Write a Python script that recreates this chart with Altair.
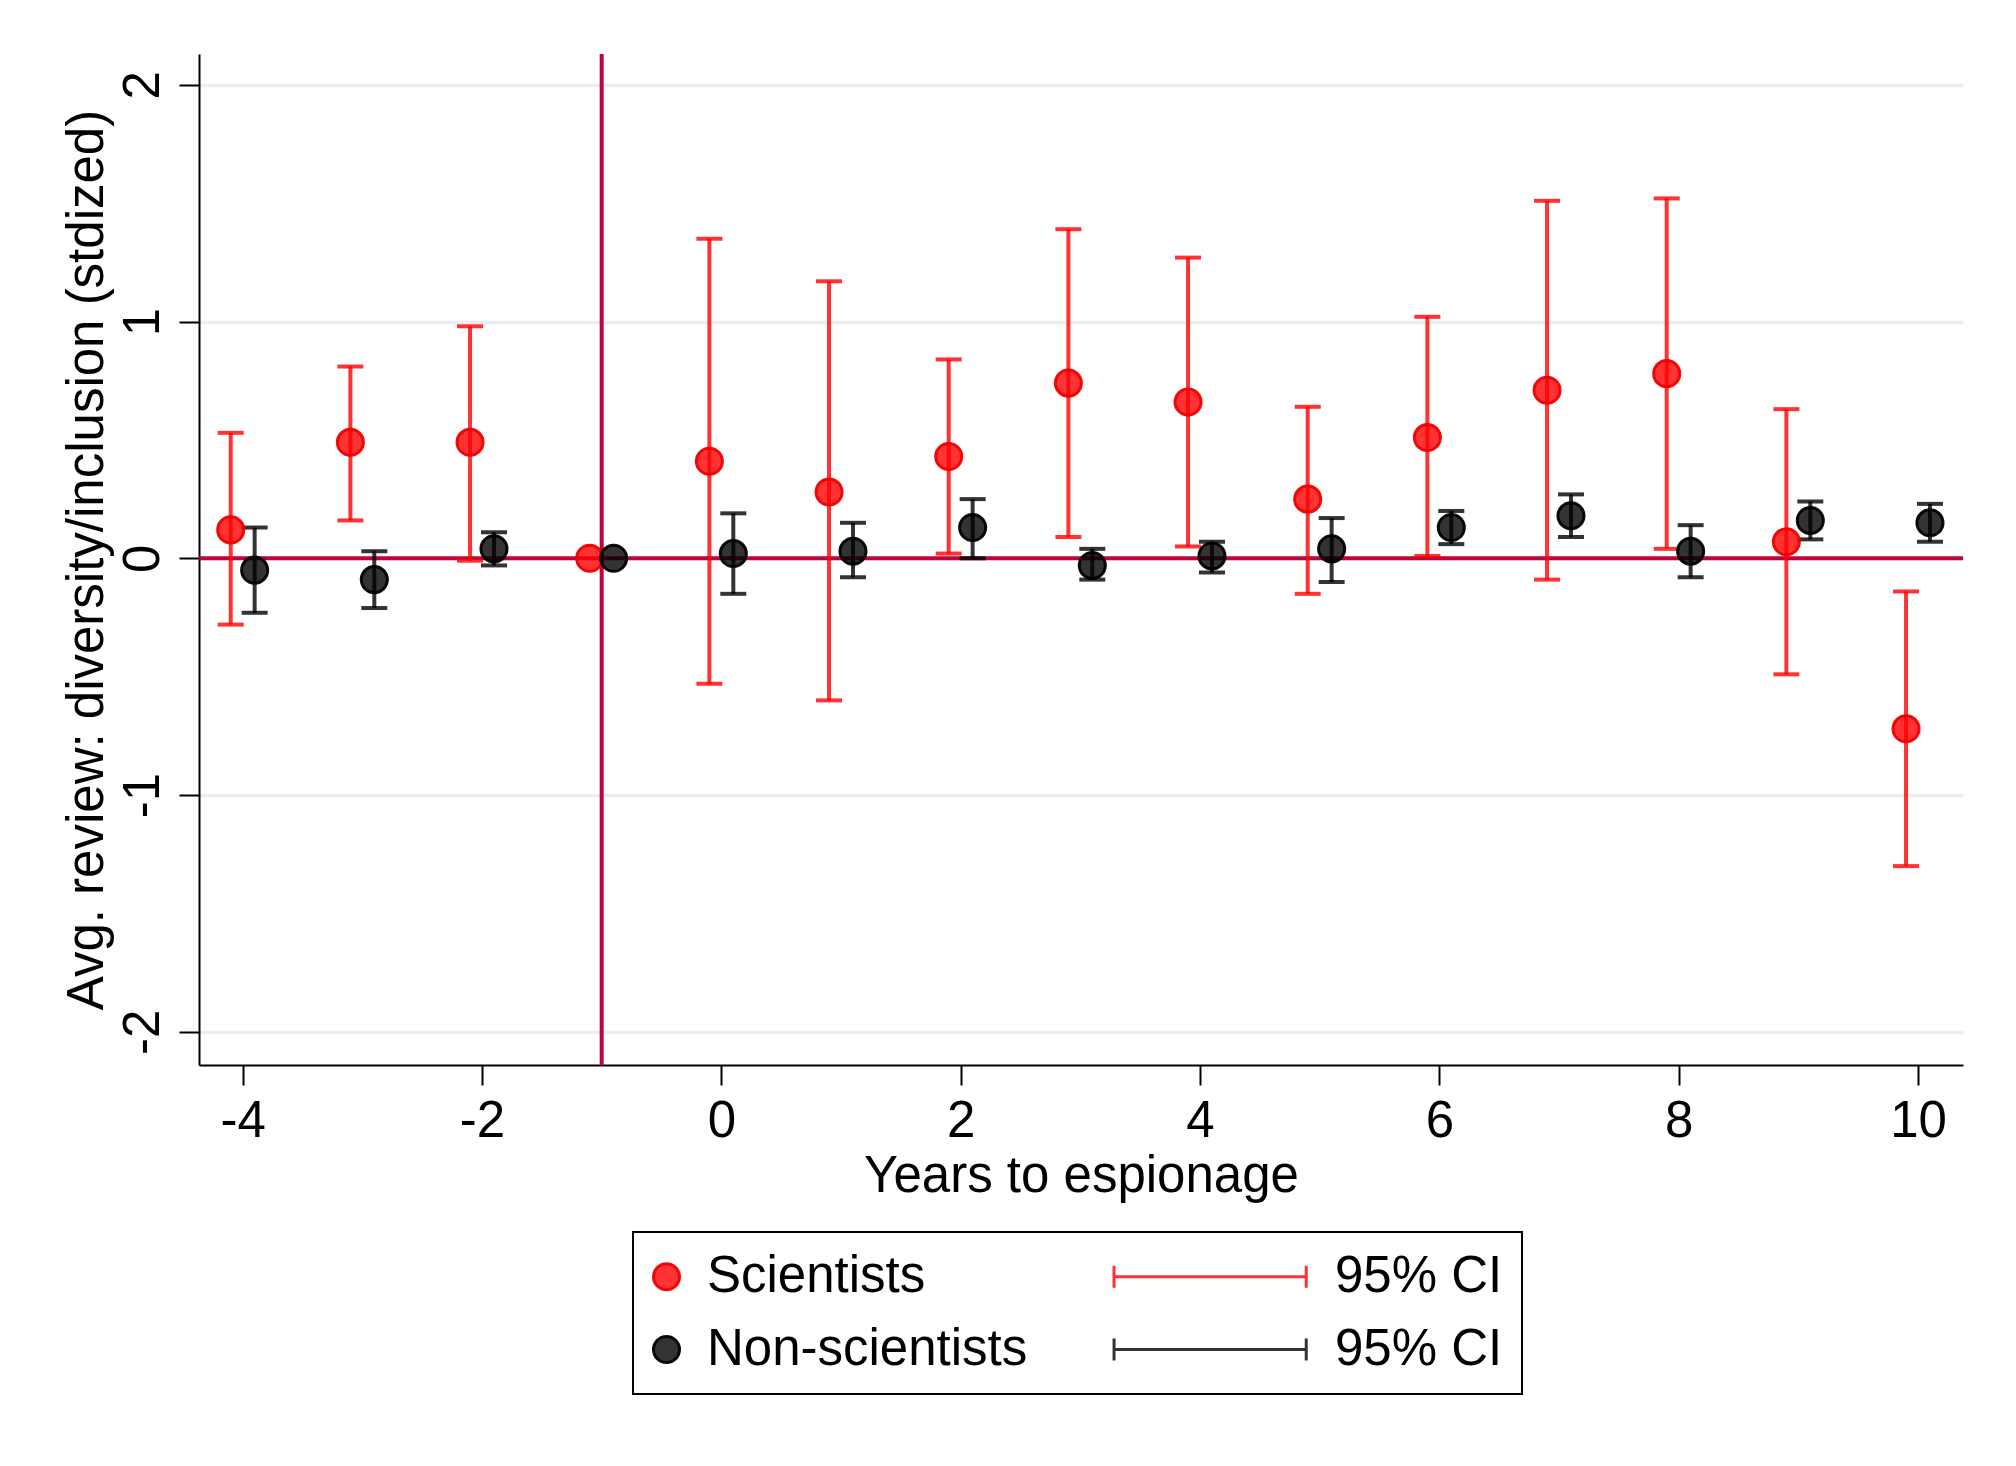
import altair as alt
import pandas as pd

# ---------------- data ----------------
years = [-4, -3, -2, -1, 0, 1, 2, 3, 4, 5, 6, 7, 8, 9, 10]

sci_est = [0.12, 0.49, 0.49, 0.0, 0.41, 0.28, 0.43, 0.74, 0.66, 0.25, 0.51, 0.71, 0.78, 0.07, -0.72]
sci_lo = [-0.28, 0.16, -0.01, None, -0.53, -0.60, 0.02, 0.09, 0.05, -0.15, 0.01, -0.09, 0.04, -0.49, -1.30]
sci_hi = [0.53, 0.81, 0.98, None, 1.35, 1.17, 0.84, 1.39, 1.27, 0.64, 1.02, 1.51, 1.52, 0.63, -0.14]

non_est = [-0.05, -0.09, 0.04, 0.0, 0.02, 0.03, 0.13, -0.03, 0.01, 0.04, 0.13, 0.18, 0.03, 0.16, 0.15]
non_lo = [-0.23, -0.21, -0.03, None, -0.15, -0.08, 0.00, -0.09, -0.06, -0.10, 0.06, 0.09, -0.08, 0.08, 0.07]
non_hi = [0.13, 0.03, 0.11, None, 0.19, 0.15, 0.25, 0.04, 0.07, 0.17, 0.20, 0.27, 0.14, 0.24, 0.23]

groups = ["Scientists", "Non-scientists"]
# legend entries, filled column by column (markers, then CI keys)
legend_keys = ["Scientists", "Non-scientists", "Scientists 95% CI", "Non-scientists 95% CI"]
event_year = [-1]
zero_line = [0]
x_ticks = [-4, -2, 0, 2, 4, 6, 8, 10]
y_ticks = [-2, -1, 0, 1, 2]

X_TITLE = "Years to espionage"
Y_TITLE = "Avg. review: diversity/inclusion (stdized)"

# ---------------- styling ----------------
FONT = "Liberation Sans, Arial, Helvetica, sans-serif"
RED_FILL = "rgba(255,0,0,0.8)"
RED_EDGE = "rgba(240,0,0,0.95)"
RED_CI = "rgba(255,0,0,0.8)"
BLK_FILL = "rgba(0,0,0,0.8)"
BLK_EDGE = "rgba(0,0,0,0.95)"
BLK_CI = "rgba(0,0,0,0.8)"
REF_COLOR = "#c0033a"
DODGE = {"Scientists": -0.1, "Non-scientists": 0.1}
CI_PATH = "M-13.84,-0.84L-13.84,0.84M-13.84,0L0.9,0M0.9,-0.84L0.9,0.84"

rows = []
for g, est, lo, hi in [("Scientists", sci_est, sci_lo, sci_hi),
                       ("Non-scientists", non_est, non_lo, non_hi)]:
    for i, yr in enumerate(years):
        rows.append({"group": g, "year": yr, "xpos": yr + DODGE[g],
                     "est": est[i], "lo": lo[i], "hi": hi[i]})
df = pd.DataFrame(rows)

xscale = alt.Scale(domain=[-4.365, 10.376], nice=False, zero=False)
yscale = alt.Scale(domain=[-2.14, 2.13], nice=False, zero=False)

xaxis = alt.Axis(values=x_ticks, labelExpr="'' + datum.value")
yaxis = alt.Axis(values=y_ticks, labelExpr="'' + datum.value")

leg = alt.Legend(
    title=None, orient="none", legendX=434, legendY=1178, columns=2,
    columnPadding=80, rowPadding=21, padding=19, strokeColor="black",
    symbolSize=680, symbolStrokeWidth=3, symbolOffset=-11,
    labelOffset=15, labelFontSize=51, labelFont=FONT, labelColor="black",
    labelLimit=900,
    labelExpr="indexof(datum.label, '95% CI') >= 0 ? '95% CI' : datum.label",
)

fill_scale = alt.Scale(domain=legend_keys, range=[RED_FILL, BLK_FILL, RED_FILL, BLK_FILL])
stroke_scale = alt.Scale(domain=legend_keys, range=[RED_EDGE, BLK_EDGE, RED_CI, BLK_CI])
shape_scale = alt.Scale(domain=legend_keys, range=["circle", "circle", CI_PATH, CI_PATH])

base = alt.Chart(df)

hline = alt.Chart(pd.DataFrame({"v": zero_line})).mark_rule(
    color=REF_COLOR, strokeWidth=4
).encode(y=alt.Y("v:Q", scale=yscale, title=Y_TITLE, axis=yaxis))

vline = alt.Chart(pd.DataFrame({"v": event_year})).mark_rule(
    color=REF_COLOR, strokeWidth=4
).encode(x=alt.X("v:Q", scale=xscale, title=X_TITLE, axis=xaxis))


def ci_layer(group, color):
    return base.transform_filter(
        f"datum.group == '{group}' && isValid(datum.lo) && isValid(datum.hi)"
    ).mark_errorbar(ticks=True, thickness=4, size=26, color=color, opacity=1).encode(
        x=alt.X("xpos:Q", scale=xscale, title=X_TITLE, axis=xaxis),
        y=alt.Y("lo:Q", scale=yscale, title=Y_TITLE, axis=yaxis),
        y2="hi:Q",
    )


points = base.mark_point(filled=True, size=680, strokeWidth=3, opacity=1).encode(
    x=alt.X("xpos:Q", scale=xscale, title=X_TITLE, axis=xaxis),
    y=alt.Y("est:Q", scale=yscale, title=Y_TITLE, axis=yaxis),
    fill=alt.Fill("group:N", scale=fill_scale, legend=leg),
    stroke=alt.Stroke("group:N", scale=stroke_scale, legend=leg),
    shape=alt.Shape("group:N", scale=shape_scale, legend=leg),
)

chart = alt.layer(
    hline, vline, ci_layer("Scientists", RED_CI), ci_layer("Non-scientists", BLK_CI), points
).properties(
    width=1764, height=1011,
    autosize=alt.AutoSizeParams(type="none"),
    padding={"left": 191, "top": 46, "right": 45, "bottom": 393},
    background="white",
).configure_view(
    stroke=None
).configure_axis(
    domainColor="black", domainWidth=2, tickColor="black", tickWidth=2, tickSize=20,
    labelFont=FONT, labelFontSize=51, labelColor="black",
    titleFont=FONT, titleFontSize=51, titleFontWeight="normal", titleColor="black",
    labelFlush=False, labelOverlap=False,
).configure_axisX(
    grid=False, labelPadding=51, labelBaseline="alphabetic",
    titleX=882, titleY=126, titleBaseline="alphabetic", titleAlign="center",
).configure_axisY(
    grid=True, gridColor="#e8eff2", gridWidth=3.5,
    labelAngle=270, labelAlign="center", labelBaseline="alphabetic", labelPadding=21,
    titleAngle=270, titleX=-97, titleY=505.5, titleBaseline="alphabetic", titleAlign="center",
).configure_legend(
    strokeWidth=2
)

chart.save("out.html", embed_options={"renderer": "svg", "actions": False})
